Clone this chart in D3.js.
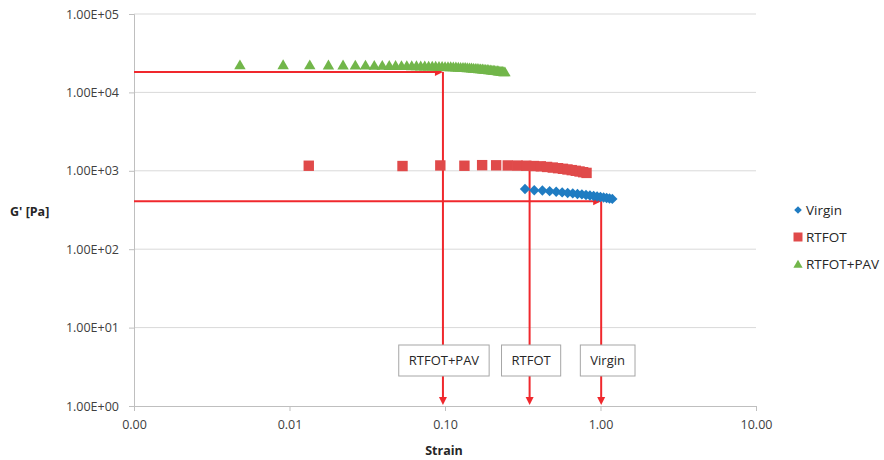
<!DOCTYPE html>
<html>
<head>
<meta charset="utf-8">
<script src="https://cdn.jsdelivr.net/npm/d3@7"></script>
<style>
  html, body { margin: 0; padding: 0; background: #fff; }
  svg { display: block; font-family: "Open Sans", "Noto Sans", sans-serif; }
</style>
</head>
<body>
<svg id="chart" width="884" height="460"></svg>
<script>
// Amplitude sweep: storage modulus G' against strain for three binder states
const virginStrain = [0.327, 0.375, 0.423, 0.471, 0.519, 0.567, 0.615, 0.663, 0.711, 0.759,
  0.807, 0.855, 0.903, 0.951, 0.999, 1.047, 1.095, 1.143, 1.191];
const virginG = [585, 565, 560, 550, 540, 530, 522, 515, 507, 500,
  492, 485, 478, 471, 464, 457, 450, 444, 438];

const rtfotStrain = [0.0133, 0.0533, 0.0933, 0.1333, 0.1733, 0.2133, 0.2533, 0.2933, 0.3333, 0.3733,
  0.4133, 0.4533, 0.4933, 0.5333, 0.5733, 0.6133, 0.6533, 0.6933, 0.7333, 0.7733, 0.8133];
const rtfotG = [1160, 1150, 1170, 1160, 1180, 1175, 1170, 1165, 1160, 1150,
  1140, 1120, 1100, 1080, 1060, 1040, 1020, 1000, 980, 960, 940];

const pavStrain = [0.0048, 0.0091, 0.0135, 0.0178, 0.0221, 0.0265, 0.0308, 0.0351, 0.0395, 0.0438,
  0.0481, 0.0525, 0.0568, 0.0611, 0.0655, 0.0698, 0.0741, 0.0785, 0.0828, 0.0871,
  0.0915, 0.0958, 0.1001, 0.1045, 0.1088, 0.1131, 0.1175, 0.1218, 0.1261, 0.1305,
  0.1348, 0.1391, 0.1435, 0.1478, 0.1521, 0.1565, 0.1608, 0.1651, 0.1695, 0.1738,
  0.1781, 0.1825, 0.1868, 0.1911, 0.1955, 0.1998, 0.2041, 0.2085, 0.2128, 0.2171,
  0.2215, 0.2258, 0.2301, 0.2345, 0.2388, 0.2430];
const pavG = [22600, 22700, 22600, 22500, 22500, 22400, 22400, 22300, 22300, 22200,
  22200, 22100, 22100, 22000, 22000, 21900, 21900, 21800, 21800, 21700,
  21600, 21600, 21500, 21400, 21400, 21300, 21200, 21100, 21000, 21000,
  20900, 20800, 20700, 20600, 20500, 20400, 20300, 20200, 20100, 20000,
  19900, 19800, 19700, 19600, 19500, 19400, 19300, 19200, 19100, 19000,
  18900, 18800, 18700, 18600, 18500, 18400];

const seriesNames = ["Virgin", "RTFOT", "RTFOT+PAV"];

// Limit-of-linearity markers: label, strain at the limit, G' level of the guide line (null = no horizontal guide)
const limitLabels = ["RTFOT+PAV", "RTFOT", "Virgin"];
const limitStrain = [0.097, 0.35, 1.01];
const limitG = [18200, 1090, 410];
const limitHorizontal = [true, false, true];

const xTicks = [0.001, 0.01, 0.1, 1, 10];
const xTickLabels = ["0.00", "0.01", "0.10", "1.00", "10.00"];
const yTicks = [1, 10, 100, 1000, 10000, 100000];
const yTickLabels = ["1.00E+00", "1.00E+01", "1.00E+02", "1.00E+03", "1.00E+04", "1.00E+05"];

const colors = { "Virgin": "#1f7cc2", "RTFOT": "#e04a4a", "RTFOT+PAV": "#72b64a" };
const guideColor = "#f0282d";

const svg = d3.select("#chart");
const plot = { left: 134, right: 756, top: 14, bottom: 406 };

const x = d3.scaleLog().domain([0.001, 10]).range([plot.left, plot.right]);
const y = d3.scaleLog().domain([1, 100000]).range([plot.bottom, plot.top]);

// horizontal gridlines
svg.append("g")
  .selectAll("line")
  .data(yTicks.slice(1))
  .join("line")
  .attr("x1", plot.left).attr("x2", plot.right)
  .attr("y1", d => y(d)).attr("y2", d => y(d))
  .attr("stroke", "#d9d9d9").attr("stroke-width", 1);

// y axis
const yAxis = d3.axisLeft(y).tickValues(yTicks)
  .tickFormat((d, i) => yTickLabels[i]).tickSize(5).tickPadding(10);
const gy = svg.append("g").attr("transform", `translate(${plot.left},0)`).call(yAxis);
gy.select(".domain").attr("stroke", "#bfbfbf");
gy.selectAll(".tick line").attr("stroke", "#bfbfbf");
gy.selectAll(".tick text").attr("fill", "#404040").style("font-size", "12.5px")
  .style("font-family", "'Open Sans', sans-serif");

// x axis
const xAxis = d3.axisBottom(x).tickValues(xTicks)
  .tickFormat((d, i) => xTickLabels[i]).tickSize(5).tickSizeOuter(0).tickPadding(9);
const gx = svg.append("g").attr("transform", `translate(0,${plot.bottom})`).call(xAxis);
gx.select(".domain").attr("stroke", "#bfbfbf");
gx.selectAll(".tick line").attr("stroke", "#bfbfbf");
gx.selectAll(".tick text").attr("fill", "#404040").style("font-size", "12.5px")
  .style("font-family", "'Open Sans', sans-serif");

// axis titles
svg.append("text").attr("x", 444).attr("y", 455).attr("text-anchor", "middle")
  .style("font-size", "12.5px").style("font-weight", "bold").attr("fill", "#262626")
  .text("Strain");
svg.append("text").attr("x", 10).attr("y", 216)
  .style("font-size", "12.5px").style("font-weight", "bold").attr("fill", "#262626")
  .text("G' [Pa]");

// marker shapes
function diamondPath(r) { return `M0,${-r}L${r},0L0,${r}L${-r},0Z`; }
function squarePath(r) { return `M${-r},${-r}H${r}V${r}H${-r}Z`; }
function trianglePath(r) { return `M0,${-r}L${r * 1.1},${r * 0.9}L${-r * 1.1},${r * 0.9}Z`; }
const shapes = { "Virgin": diamondPath, "RTFOT": squarePath, "RTFOT+PAV": trianglePath };
const sizes = { "Virgin": 5.2, "RTFOT": 5.2, "RTFOT+PAV": 5.2 };

const series = [
  { name: "RTFOT+PAV", strain: pavStrain, g: pavG },
  { name: "RTFOT", strain: rtfotStrain, g: rtfotG },
  { name: "Virgin", strain: virginStrain, g: virginG }
];

// guide lines drawn first, data markers on top
const arrowSize = 6;
const guides = svg.append("g");
limitLabels.forEach((lab, i) => {
  const gx0 = x(limitStrain[i]);
  const gy0 = y(limitG[i]);
  if (limitHorizontal[i]) {
    guides.append("line").attr("x1", plot.left).attr("x2", gx0 - 2)
      .attr("y1", gy0).attr("y2", gy0)
      .attr("stroke", guideColor).attr("stroke-width", 2);
    guides.append("path")
      .attr("d", `M${gx0},${gy0}L${gx0 - arrowSize - 2},${gy0 - 4}L${gx0 - arrowSize - 2},${gy0 + 4}Z`)
      .attr("fill", guideColor);
  }
  guides.append("line").attr("x1", gx0).attr("x2", gx0)
    .attr("y1", gy0).attr("y2", plot.bottom - 6)
    .attr("stroke", guideColor).attr("stroke-width", 2);
  guides.append("path")
    .attr("d", `M${gx0},${plot.bottom - 1}L${gx0 - 4},${plot.bottom - 9}L${gx0 + 4},${plot.bottom - 9}Z`)
    .attr("fill", guideColor);
});

series.forEach(s => {
  svg.append("g")
    .selectAll("path")
    .data(s.strain.map((v, i) => [v, s.g[i]]))
    .join("path")
    .attr("transform", d => `translate(${x(d[0])},${y(d[1])})`)
    .attr("d", shapes[s.name](sizes[s.name]))
    .attr("fill", colors[s.name]);
});

// label boxes on the guide lines
const boxOffsets = [1, 1.5, 6.5];
limitLabels.forEach((lab, i) => {
  const cx = x(limitStrain[i]) + boxOffsets[i];
  const t = svg.append("text").attr("x", cx).attr("y", 365).attr("text-anchor", "middle")
    .style("font-size", "13px").attr("fill", "#262626").text(lab);
  const w = t.node().getComputedTextLength() + 20;
  svg.insert("rect", () => t.node())
    .attr("x", cx - w / 2).attr("y", 345).attr("width", w).attr("height", 31)
    .attr("fill", "#fff").attr("stroke", "#a6a6a6").attr("stroke-width", 1);
});

// legend
const legend = svg.append("g");
const legendY = [210, 237, 264];
const legendSizes = { "Virgin": 3.8, "RTFOT": 4.5, "RTFOT+PAV": 4.2 };
seriesNames.forEach((name, i) => {
  legend.append("path")
    .attr("transform", `translate(798,${legendY[i]})`)
    .attr("d", shapes[name](legendSizes[name]))
    .attr("fill", colors[name]);
  legend.append("text").attr("x", 806).attr("y", legendY[i] + 4.5)
    .style("font-size", "13.5px").attr("fill", "#262626").text(name);
});
</script>
</body>
</html>
